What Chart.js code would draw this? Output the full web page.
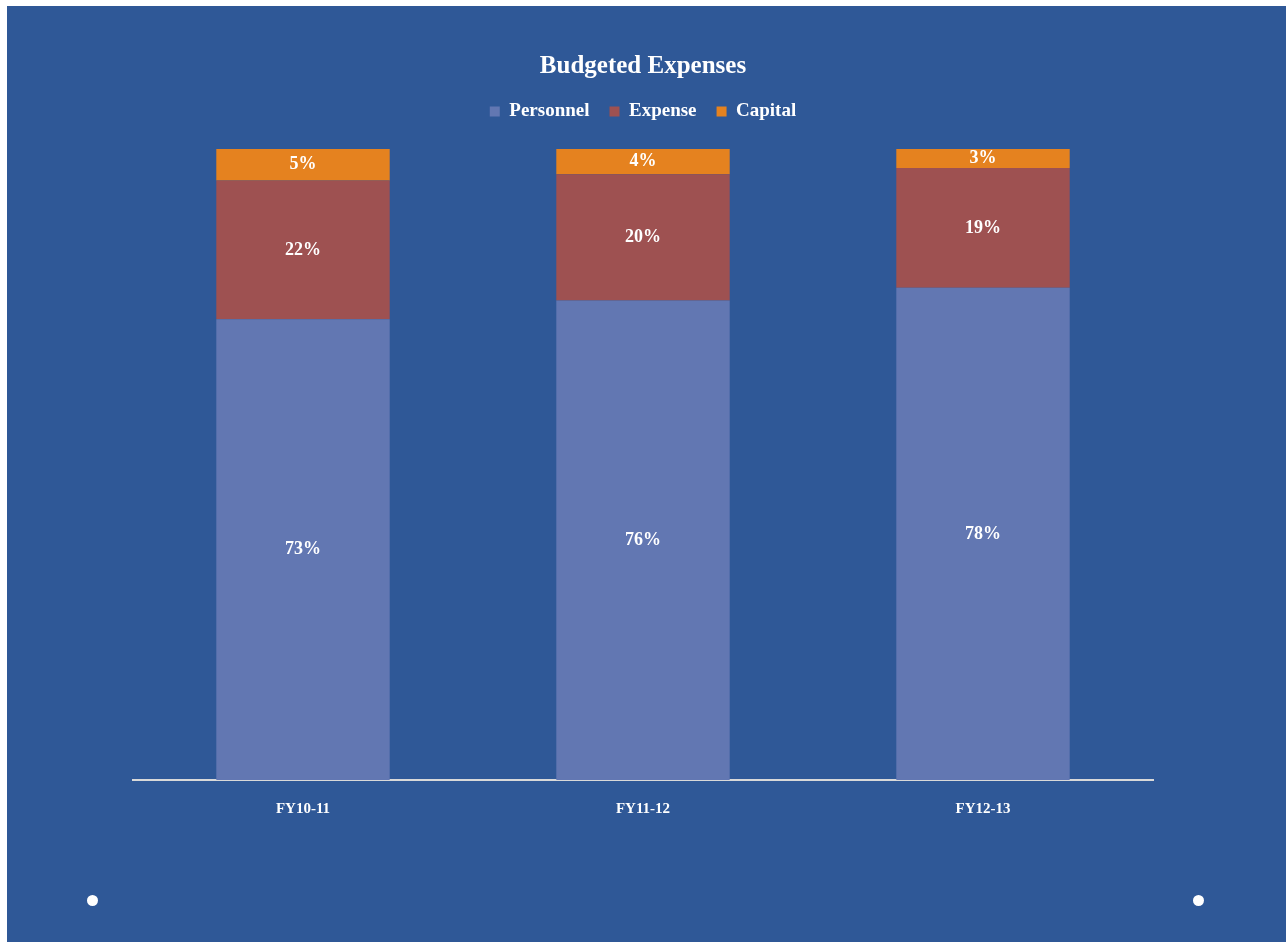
<!DOCTYPE html>
<html>
<head>
<meta charset="utf-8">
<script src="https://cdn.jsdelivr.net/npm/chart.js@4"></script>
<style>
  html, body { margin: 0; padding: 0; background: #ffffff; }
  #slide { position: absolute; left: 7px; top: 6px; width: 1279px; height: 936px; background: #2f5897; }
  .dot { position: absolute; width: 11px; height: 11px; border-radius: 50%; background: #ffffff; }
</style>
</head>
<body>
<div id="slide">
  <canvas id="chart" width="1279" height="936"></canvas>
  <div class="dot" style="left:80px; top:889px;"></div>
  <div class="dot" style="left:1186px; top:889px;"></div>
</div>
<script>
let years = ["FY10-11", "FY11-12", "FY12-13"];
let personnel = [73, 76, 78];
let expense = [22, 20, 19];
let capital = [5, 4, 3];

let colors = ["#6277b2", "#9e5151", "#e5821f"];
let serif = "'Liberation Serif', 'DejaVu Serif', serif";

// draws the % value in the middle of each bar segment
const segmentLabels = {
  id: "segmentLabels",
  beforeLayout(chart) {
    // leave some room between legend and bars
    const lg = chart.legend;
    if (lg && !lg._patched) {
      const fit = lg.fit;
      lg.fit = function () {
        fit.call(this);
        this.height = 67;
      };
      lg._patched = true;
    }
  },
  afterDatasetsDraw(chart) {
    const ctx = chart.ctx;
    ctx.save();
    ctx.fillStyle = "#ffffff";
    ctx.font = "bold 18px " + serif;
    ctx.textAlign = "center";
    ctx.textBaseline = "middle";
    chart.data.datasets.forEach((ds, i) => {
      chart.getDatasetMeta(i).data.forEach((bar, j) => {
        const p = bar.getProps(["x", "y", "base"], true);
        ctx.fillText(ds.data[j] + "%", p.x, (p.y + p.base) / 2);
      });
    });
    ctx.restore();
  },
};

new Chart("chart", {
  type: "bar",
  data: {
    labels: years,
    datasets: [
      { label: "Personnel", data: personnel, backgroundColor: colors[0] },
      { label: "Expense", data: expense, backgroundColor: colors[1] },
      { label: "Capital", data: capital, backgroundColor: colors[2] },
    ],
  },
  plugins: [segmentLabels],
  options: {
    responsive: false,
    animation: false,
    categoryPercentage: 1,
    barPercentage: 0.51,
    layout: { padding: { left: 126, right: 133, top: 0, bottom: 104 } },
    plugins: {
      title: {
        display: true,
        text: "Budgeted Expenses",
        color: "#ffffff",
        font: { family: serif, size: 25, weight: "bold" },
        padding: { top: 46, bottom: 0 },
      },
      legend: {
        labels: {
          color: "#ffffff",
          font: { family: serif, size: 19, weight: "bold" },
          boxWidth: 10,
          boxHeight: 10,
          padding: 20,
        },
      },
      tooltip: { enabled: false },
    },
    scales: {
      x: {
        stacked: true,
        grid: { display: false, drawTicks: false },
        border: { color: "#d9d9d9", width: 2 },
        ticks: { color: "#ffffff", font: { family: serif, size: 15, weight: "bold" }, padding: 20 },
      },
      y: { stacked: true, min: 0, max: 100, display: false },
    },
  },
});
</script>
</body>
</html>
